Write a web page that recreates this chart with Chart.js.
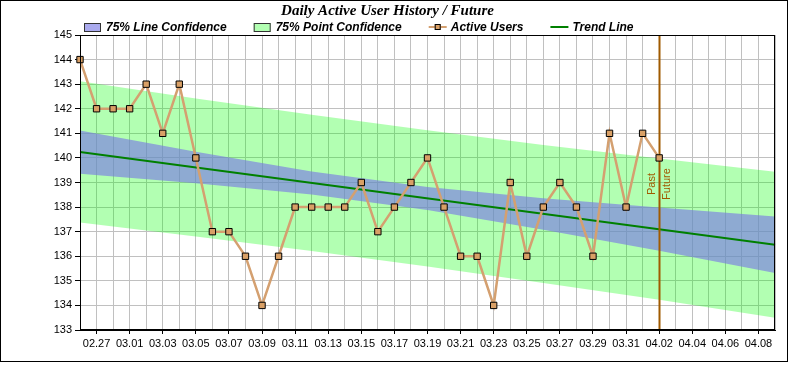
<!DOCTYPE html>
<html lang="en">
<head>
<meta charset="UTF-8">
<title>Daily Active User History / Future</title>
<script src="https://cdn.jsdelivr.net/npm/chart.js"></script>
<style>
  body { margin: 0; background: #fff; }
  canvas { display: block; }
</style>
</head>
<body>
<canvas id="dauChart" width="790" height="365"></canvas>
<script>
// x categories, one per day
const days = ['02.26','02.27','02.28',
  '03.01','03.02','03.03','03.04','03.05','03.06','03.07','03.08','03.09','03.10',
  '03.11','03.12','03.13','03.14','03.15','03.16','03.17','03.18','03.19','03.20',
  '03.21','03.22','03.23','03.24','03.25','03.26','03.27','03.28','03.29','03.30','03.31',
  '04.01','04.02','04.03','04.04','04.05','04.06','04.07','04.08','04.09'];

// measured history (02.26 .. 04.02)
const activeUsers = [144,142,142,142,143,141,143,140,137,137,136,134,136,138,138,138,
  138,139,137,138,139,140,138,136,136,134,139,136,138,139,138,136,141,138,141,140];

// trend line end points
const trendDates = ['02.26','04.09'];
const trendValues = [140.24, 136.47];

// confidence bands, read at a few dates
const bandDates = ['02.26','03.05','03.12','03.19','03.26','04.02','04.09'];
const lineConfUpper = [141.12,140.25,139.45,138.82,138.36,137.98,137.62];
const lineConfLower = [139.36,138.97,138.51,137.88,137.08,136.22,135.32];
const pointConfUpper = [143.12,142.42,141.76,141.13,140.53,139.98,139.44];
const pointConfLower = [137.37,136.80,136.21,135.58,134.91,134.23,133.50];

const splitDate = '04.02';

const sans = "Arial, 'Liberation Sans', sans-serif";
const serif = "'Times New Roman', 'Liberation Serif', serif";
const lineConfColor = 'rgba(120,120,228,0.63)';
const pointConfColor = 'rgba(0,255,0,0.3)';
const userColor = '#d4a070';
const userMarker = '#d9a066';
const trendColor = '#008000';
const splitColor = '#a05a00';

const toPoints = (xs, ys) => xs.map((x, i) => ({ x: x, y: ys[i] }));

const band = (label, xs, ys, fill, color) => ({
  label: label,
  data: toPoints(xs, ys),
  borderWidth: 0,
  pointRadius: 0,
  fill: fill,
  backgroundColor: color,
  borderColor: 'transparent'
});

const extras = {
  id: 'extras',
  afterDatasetDraw(chart, args) {
    if (args.index !== 1) return;
    // past / future marker
    const ctx = chart.ctx, area = chart.chartArea;
    const x = Math.round(chart.scales.x.getPixelForValue(days.indexOf(splitDate))) + 0.5;
    ctx.save();
    ctx.strokeStyle = splitColor;
    ctx.lineWidth = 2;
    ctx.beginPath();
    ctx.moveTo(x, area.top);
    ctx.lineTo(x, area.bottom);
    ctx.stroke();
    ctx.fillStyle = splitColor;
    ctx.font = '11px ' + sans;
    ctx.textAlign = 'center';
    ctx.translate(x, 184);
    ctx.rotate(-Math.PI / 2);
    ctx.textBaseline = 'bottom';
    ctx.fillText('Past', 0, -2);
    ctx.textBaseline = 'top';
    ctx.fillText('Future', 0, 2);
    ctx.restore();
  },
  afterDraw(chart) {
    const ctx = chart.ctx, area = chart.chartArea;
    ctx.save();
    ctx.strokeStyle = '#000';
    ctx.lineWidth = 1;
    ctx.strokeRect(Math.round(area.left) + 0.5, Math.round(area.top) + 0.5,
      Math.round(area.right - area.left) - 1, Math.round(area.bottom - area.top) - 1);
    ctx.strokeRect(0.5, 0.5, 787, 361);

    // legend
    const items = [
      { text: '75% Line Confidence', kind: 'box', color: lineConfColor },
      { text: '75% Point Confidence', kind: 'box', color: pointConfColor },
      { text: 'Active Users', kind: 'marker', color: userColor },
      { text: 'Trend Line', kind: 'line', color: trendColor }
    ];
    ctx.font = 'italic bold 12px ' + sans;
    ctx.textBaseline = 'middle';
    ctx.textAlign = 'left';
    let x = 84;
    const y = 27;
    items.forEach(it => {
      if (it.kind === 'box') {
        ctx.fillStyle = it.color;
        ctx.fillRect(x, y - 4, 17, 9);
        ctx.strokeStyle = '#333';
        ctx.strokeRect(x + 0.5, y - 3.5, 16, 8);
        x += 22;
      } else {
        ctx.strokeStyle = it.color;
        ctx.lineWidth = 2;
        ctx.beginPath();
        ctx.moveTo(x, y);
        ctx.lineTo(x + 18, y);
        ctx.stroke();
        if (it.kind === 'marker') {
          ctx.fillStyle = userMarker;
          ctx.fillRect(x + 6, y - 3, 6, 6);
          ctx.lineWidth = 1;
          ctx.strokeStyle = '#000';
          ctx.strokeRect(x + 6.5, y - 2.5, 5, 5);
        }
        x += 22;
      }
      ctx.fillStyle = '#000';
      ctx.fillText(it.text, x, y + 1);
      x += ctx.measureText(it.text).width + 27;
    });
    ctx.restore();
  }
};

new Chart(document.getElementById('dauChart'), {
  type: 'line',
  data: {
    labels: days,
    datasets: [
      {
        label: 'Active Users',
        data: activeUsers,
        borderColor: userColor,
        borderWidth: 2.5,
        pointStyle: 'rect',
        pointRadius: 4.5,
        pointBackgroundColor: userMarker,
        pointBorderColor: '#000',
        pointBorderWidth: 1,
        fill: false
      },
      {
        label: 'Trend Line',
        data: toPoints(trendDates, trendValues),
        borderColor: trendColor,
        borderWidth: 2,
        pointRadius: 0,
        fill: false
      },
      band('75% Line Confidence', bandDates, lineConfUpper, '+1', lineConfColor),
      band('lineLower', bandDates, lineConfLower, false, lineConfColor),
      band('75% Point Confidence', bandDates, pointConfUpper, '+1', pointConfColor),
      band('pointLower', bandDates, pointConfLower, false, pointConfColor)
    ]
  },
  options: {
    responsive: false,
    animation: false,
    devicePixelRatio: 1,
    layout: { padding: { left: 0, right: 15, top: 0, bottom: 0 } },
    plugins: {
      legend: { display: false },
      tooltip: { enabled: false },
      title: {
        display: true,
        text: 'Daily Active User History / Future',
        color: '#000',
        font: { family: serif, size: 15, style: 'italic', weight: 'bold' },
        padding: { top: 2, bottom: 15 }
      }
    },
    scales: {
      x: {
        offset: false,
        grid: {
          color: '#c0c0c0',
          tickLength: 4,
          tickColor: c => c.index % 2 === 1 ? '#000' : 'rgba(0,0,0,0)'
        },
        border: { color: '#000' },
        ticks: {
          autoSkip: false,
          maxRotation: 0,
          padding: 3,
          color: '#000',
          font: { family: sans, size: 11 },
          callback: (v, i) => i % 2 === 1 ? days[i] : ''
        },
        afterFit: s => { s.height = 35; }
      },
      y: {
        min: 133,
        max: 145,
        grid: { color: '#c0c0c0', tickLength: 5, tickColor: '#000' },
        border: { color: '#000' },
        ticks: {
          stepSize: 1,
          padding: 3,
          color: '#000',
          font: { family: sans, size: 11 }
        },
        afterFit: s => { s.width = 80; }
      }
    }
  },
  plugins: [extras]
});
</script>
</body>
</html>
